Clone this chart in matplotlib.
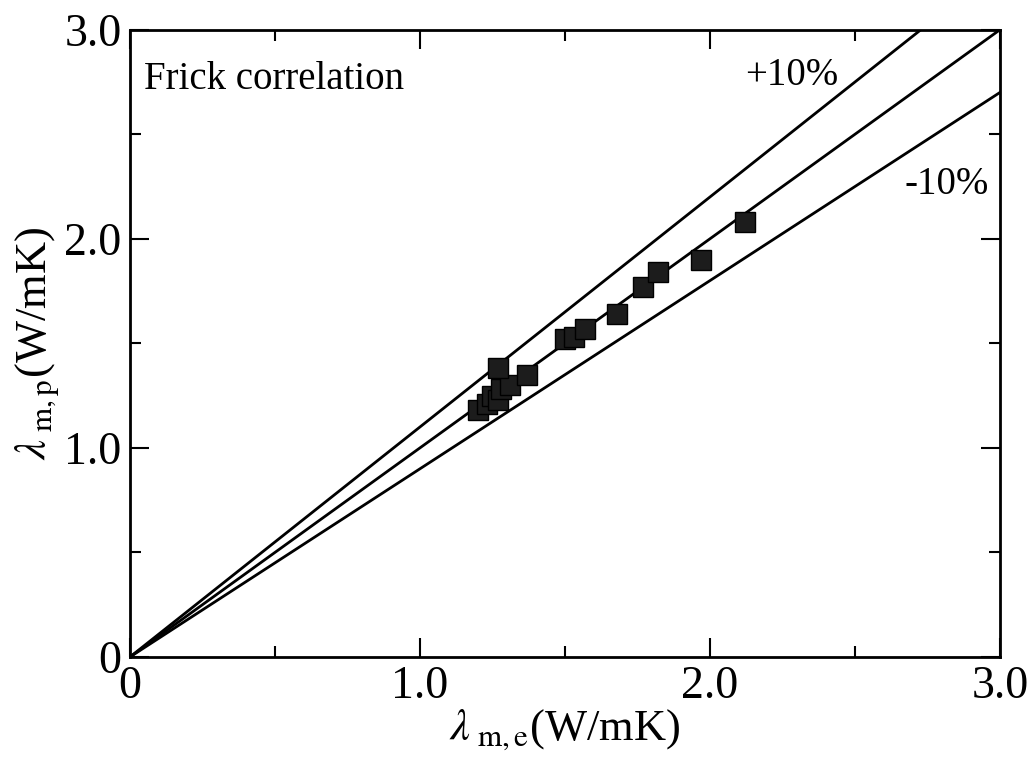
import numpy as np
import matplotlib
matplotlib.use("Agg")
import matplotlib.pyplot as plt
from matplotlib.ticker import MultipleLocator, FuncFormatter

lam_exp = [1.20, 1.23, 1.25, 1.27, 1.28, 1.31, 1.27, 1.37,
           1.50, 1.53, 1.57, 1.68, 1.77, 1.82, 1.97, 2.12]
lam_pred = [1.18, 1.21, 1.25, 1.23, 1.28, 1.30, 1.38, 1.35,
            1.52, 1.53, 1.57, 1.64, 1.77, 1.84, 1.90, 2.08]

line_x = [0.0, 3.0]
ratios = [1.0, 1.1, 0.9]

plt.rcParams['font.family'] = ['Liberation Serif', 'DejaVu Serif']
plt.rcParams['mathtext.fontset'] = 'stix'

fig = plt.figure(figsize=(10.35, 7.63), dpi=100)
ax = fig.add_axes([0.1256, 0.139, 0.8405, 0.822])

for r in ratios:
    ax.plot(line_x, [r * v for v in line_x], color='black', lw=2.0, zorder=2)

ax.plot(lam_exp, lam_pred, 's', color='#1c1c1c', markeredgecolor='black',
        markersize=14, zorder=3)

ax.set_xlim(0, 3.0)
ax.set_ylim(0, 3.0)

fmt = FuncFormatter(lambda v, p: '0' if abs(v) < 1e-9 else '%.1f' % v)
for axis in (ax.xaxis, ax.yaxis):
    axis.set_major_locator(MultipleLocator(1.0))
    axis.set_minor_locator(MultipleLocator(0.5))
    axis.set_major_formatter(fmt)

ax.tick_params(which='both', direction='in', top=True, right=True,
               width=1.5, labelsize=33)
ax.tick_params(which='major', length=14, pad=6)
ax.tick_params(which='minor', length=8)
for s in ax.spines.values():
    s.set_linewidth(2.0)

ax.set_xlabel(r'$\lambda_{\rm\ m,e}$(W/mK)', fontsize=32, labelpad=0)
ax.set_ylabel(r'$\lambda_{\rm\ m,p}$(W/mK)', fontsize=32, labelpad=2)

ax.text(0.05, 2.76, 'Frick correlation', fontsize=28, va='center', ha='left')
ax.text(2.12, 2.78, '+10%', fontsize=28, va='center', ha='left')
ax.text(2.67, 2.26, '-10%', fontsize=28, va='center', ha='left')

fig.savefig('out.png', dpi=100)
